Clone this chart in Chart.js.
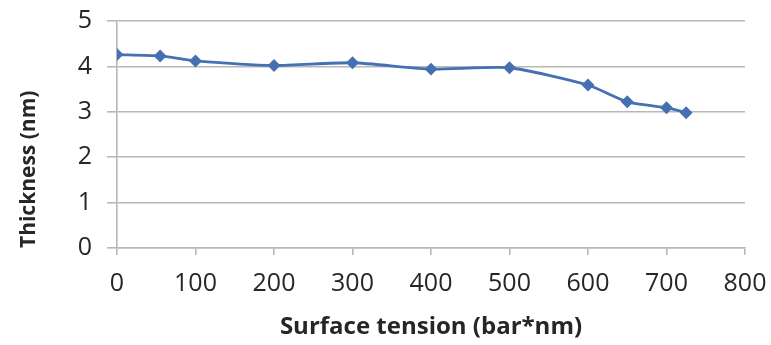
<!DOCTYPE html>
<html>
<head>
<meta charset="utf-8">
<script src="https://cdn.jsdelivr.net/npm/chart.js@4"></script>
<style>
  html, body { margin: 0; padding: 0; background: #ffffff; }
  #wrap { width: 771px; height: 345px; position: relative; }
</style>
</head>
<body>
<div id="wrap"><canvas id="c" width="771" height="345"></canvas></div>
<script>
// Film thickness vs. surface tension
const surfaceTension = [0, 55, 100, 200, 300, 400, 500, 600, 650, 700, 725];
const thickness = [4.26, 4.23, 4.12, 4.02, 4.08, 3.94, 3.97, 3.59, 3.22, 3.09, 2.98];
const xTicks = [0, 100, 200, 300, 400, 500, 600, 700, 800];
const yTicks = [0, 1, 2, 3, 4, 5];

const points = surfaceTension.map((x, i) => ({ x: x, y: thickness[i] }));
const fontFamily = '"Open Sans", Lato, sans-serif';
const textColor = '#262626';
const gridColor = '#b8b8b8';

new Chart(document.getElementById('c'), {
  type: 'line',
  data: {
    datasets: [{
      data: points,
      borderColor: '#4570b2',
      backgroundColor: '#4570b2',
      borderWidth: 2.8,
      tension: 0.2,
      pointStyle: 'rectRot',
      pointRadius: 4.5,
      pointHoverRadius: 4.5,
      fill: false
    }]
  },
  options: {
    responsive: false,
    animation: false,
    devicePixelRatio: 1,
    layout: { padding: { top: 21, right: 26, bottom: 0, left: 0 } },
    plugins: { legend: { display: false }, tooltip: { enabled: false } },
    scales: {
      x: {
        type: 'linear',
        min: 0, max: 800,
        afterBuildTicks: s => { s.ticks = xTicks.map(v => ({ value: v })); },
        afterFit: s => { s.height = 97; s.paddingLeft = 0; s.paddingRight = 0; },
        border: { display: true, color: gridColor, width: 1.6 },
        grid: { drawOnChartArea: false, drawTicks: true, tickLength: 7, color: gridColor, lineWidth: 1.6 },
        ticks: { color: textColor, font: { family: fontFamily, size: 25 }, padding: 14, maxRotation: 0 },
        title: {
          display: true, text: 'Surface tension (bar*nm)', color: textColor,
          font: { family: fontFamily, size: 24, weight: 'bold' }, padding: { top: 4, bottom: 3 }
        }
      },
      y: {
        type: 'linear',
        min: 0, max: 5,
        afterBuildTicks: s => { s.ticks = yTicks.map(v => ({ value: v })); },
        afterFit: s => { s.width = 117; s.paddingTop = 0; s.paddingBottom = 0; },
        border: { display: true, color: gridColor, width: 1.6 },
        grid: { drawTicks: true, tickLength: 10, color: gridColor, lineWidth: 1.6 },
        ticks: { color: textColor, font: { family: fontFamily, size: 25 }, padding: 15 },
        title: {
          display: true, text: 'Thickness (nm)', color: textColor, align: 'start',
          font: { family: fontFamily, size: 21, weight: 'bold' }, padding: { top: 16, bottom: 0 }
        }
      }
    }
  }
});
</script>
</body>
</html>
